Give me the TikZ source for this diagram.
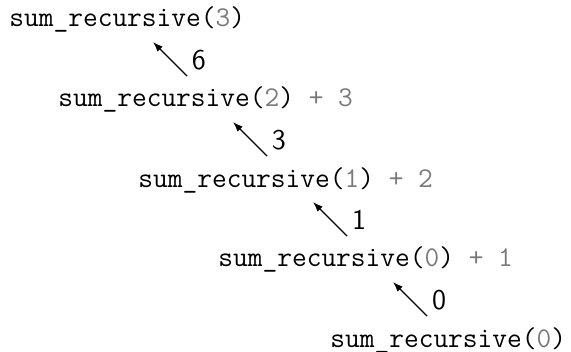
\documentclass[tikz,border=0pt]{standalone}
\usepackage{xcolor}
\usepackage{tikz}
\usetikzlibrary{arrows.meta}
\definecolor{argcol}{HTML}{7A7A7A}
\newcommand{\gr}[1]{\textcolor{argcol}{#1}}

\begin{document}
\begin{tikzpicture}[x=0.5pt,y=-0.5pt,
  call/.style={font=\fontsize{14.3pt}{17pt}\ttfamily,anchor=base west,inner sep=0pt},
  ret/.style={font=\fontsize{14.3pt}{17pt}\sffamily,inner sep=0pt},
  back/.style={-{Latex[length=5pt,width=3.6pt]},line width=0.6pt}]
  \useasboundingbox (0,0) rectangle (571,352);
  % the calls, one per line
  \node[call] (c3) at (9,27) {sum\_recursive(\gr{3})};
  \node[call] (c2) at (58,107) {sum\_recursive(\gr{2}) \gr{+ 3}};
  \node[call] (c1) at (138,187) {sum\_recursive(\gr{1}) \gr{+ 2}};
  \node[call] (c0) at (218,266) {sum\_recursive(\gr{0}) \gr{+ 1}};
  \node[call] (base) at (330,347) {sum\_recursive(\gr{0})};
  % returned values
  \foreach \i/\v in {0/6,1/3,2/1,3/0}{
    \coordinate (from\i) at (187+80*\i,76+80*\i);
    \coordinate (to\i) at (153+80*\i,42+80*\i);
    \draw[back] (from\i) -- (to\i);
    \node[ret] (v\i) at (199+80*\i,60+80*\i) {\v};
  }
\end{tikzpicture}
\end{document}
